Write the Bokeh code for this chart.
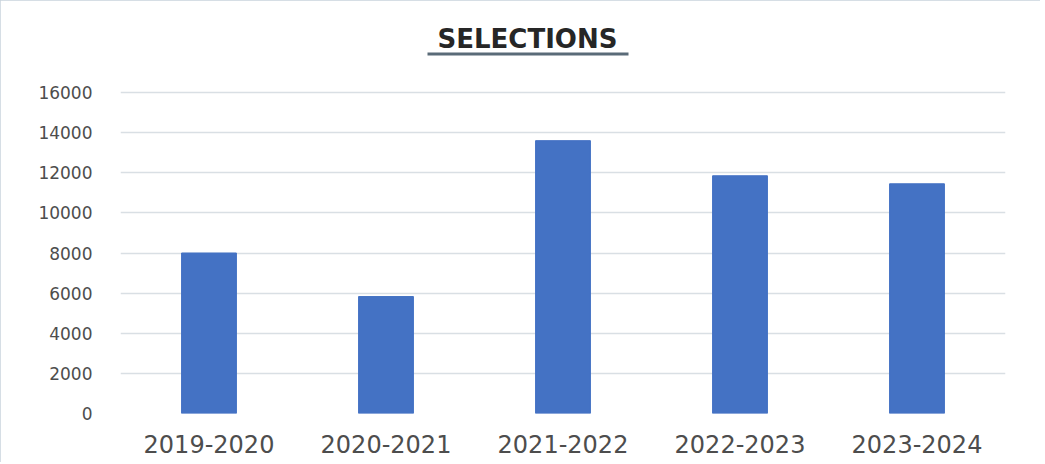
from bokeh.plotting import figure
from bokeh.models import FixedTicker, BoxAnnotation, Label, ColumnDataSource
from bokeh.embed import file_html
from bokeh.resources import INLINE

years = ["2019-2020", "2020-2021", "2021-2022", "2022-2023", "2023-2024"]
selections = [8000, 5830, 13600, 11850, 11450]
y_ticks = [0, 2000, 4000, 6000, 8000, 10000, 12000, 14000, 16000]

src = ColumnDataSource(dict(year=years, sel=selections))

W, H = 1040, 462
frame_left, frame_right = 120, 1005
frame_top, frame_bottom = 6, 413
y_top_tick_px = 92
# extend the y range so that the title area sits inside the frame
y_end = 16000 * (frame_bottom - frame_top) / (frame_bottom - y_top_tick_px)

p = figure(x_range=years, y_range=(0, y_end), width=W, height=H,
           output_backend="svg", toolbar_location=None,
           min_border_left=frame_left, min_border_right=W - frame_right,
           min_border_top=frame_top, min_border_bottom=H - frame_bottom)
p.styles = {"outline": "2px solid #c9d3dc", "outline-offset": "-2px"}

p.vbar(x="year", top="sel", width=0.31, source=src, color="#4472C4")

p.outline_line_color = None
p.background_fill_color = "white"
p.border_fill_color = "white"

p.xgrid.grid_line_color = None
p.ygrid.grid_line_color = "#d9dfe4"
p.ygrid.grid_line_width = 1.5
p.yaxis.ticker = FixedTicker(ticks=y_ticks)

for ax in (p.xaxis[0], p.yaxis[0]):
    ax.axis_line_color = None
    ax.major_tick_line_color = None
    ax.minor_tick_line_color = None
    ax.major_label_text_color = "#4d4d4d"
    ax.major_label_text_font = "DejaVu Sans"

p.yaxis.major_label_text_font_size = "17px"
p.yaxis.major_label_standoff = 22
p.xaxis.major_label_text_font_size = "24px"
p.xaxis.major_label_standoff = 15

# title (category axis: each category spans 1 unit, starting at 0)
px_per_cat = (frame_right - frame_left) / len(years)
px_per_unit = (frame_bottom - y_top_tick_px) / 16000
def xd(px):
    return (px - frame_left) / px_per_cat
def yd(py):
    return (frame_bottom - py) / px_per_unit

p.add_layout(Label(x=xd(527), y=yd(38), text="SELECTIONS", text_align="center",
                   text_baseline="middle", text_font="DejaVu Sans",
                   text_font_size="26px", text_font_style="bold",
                   text_color="#262626"))
p.add_layout(BoxAnnotation(left=xd(427), right=xd(628), top=yd(52), bottom=yd(55),
                           fill_color="#5a6b78", fill_alpha=1, line_color=None))

open("out.html", "w").write(file_html(p, INLINE))
